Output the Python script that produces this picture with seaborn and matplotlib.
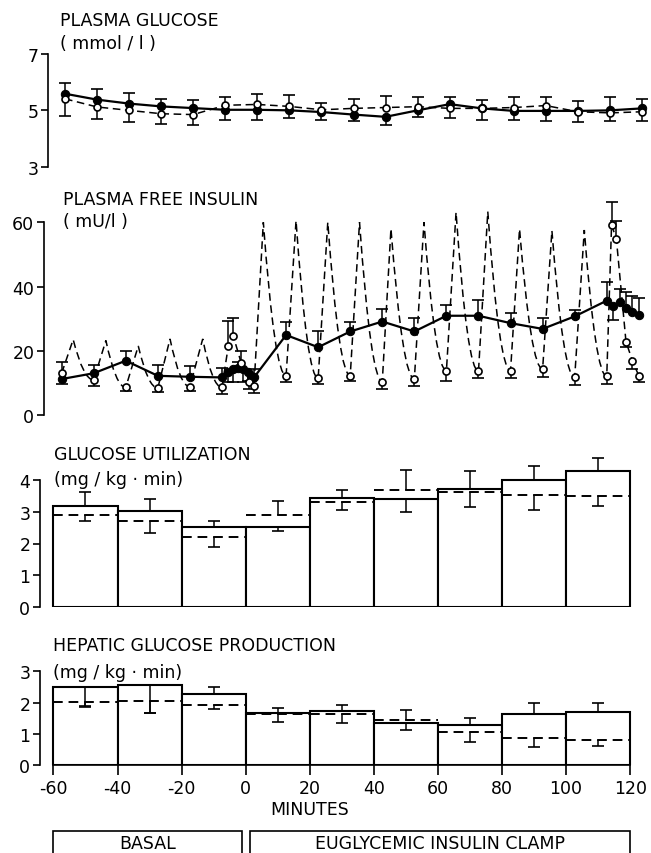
import numpy as np
import matplotlib
matplotlib.use("Agg")
import matplotlib.pyplot as plt
import seaborn as sns
from matplotlib.path import Path
from matplotlib.patches import PathPatch, Rectangle
from matplotlib.transforms import blended_transform_factory

# ---------------- data ----------------
# plasma glucose, mmol/l  (continuous = filled / solid, pulsatile = open / dashed)
glucose_t = [-60, -50, -40, -30, -20, -10, 0, 10, 20, 30, 40, 50, 60, 70, 80, 90, 100, 110, 120]
glucose_cont = [5.59, 5.38, 5.24, 5.14, 5.08, 5.02, 5.02, 5.00, 4.94, 4.85, 4.77, 5.00, 5.22, 5.07, 4.98, 4.98, 4.98, 5.00, 5.07]
glucose_cont_err = [0.37, 0.38, 0.37, 0.27, 0.30, -0.37, -0.35, -0.27, -0.29, -0.24, -0.28, -0.23, 0.24, 0.31, -0.33, -0.37, 0.34, 0.46, 0.34]
glucose_puls = [5.41, 5.12, 5.00, 4.88, 4.85, 5.18, 5.21, 5.14, 5.02, 5.07, 5.10, 5.13, 5.07, 5.07, 5.10, 5.17, 4.95, 4.91, 4.95]
glucose_puls_err = [-0.60, -0.41, -0.41, -0.35, -0.36, 0.29, 0.38, 0.39, 0.24, 0.33, 0.40, 0.33, -0.34, -0.42, 0.36, 0.31, -0.36, -0.30, -0.34]

# plasma free insulin, mU/l
insulin_cont_t = [-60, -50, -40, -30, -20, -10, -8, -6.5, -5, -3.5, -2, -1, 0,
                  10, 20, 30, 40, 50, 60, 70, 80, 90, 100, 110, 112, 114, 116, 118, 120]
insulin_cont = [11.2, 13.0, 16.9, 12.2, 11.9, 11.7, 13.5, 14.3, 14.6, 14.3, 13.5, 12.2, 11.7,
                24.9, 21.1, 26.0, 29.1, 26.0, 30.9, 30.9, 28.6, 26.8, 30.7, 35.6, 33.9, 35.3, 33.2, 32.2, 31.2]
insulin_cont_err = [-1.5, 2.7, 3.1, 3.5, 3.5, 2.9, -3.2, -4.0, 2.0, -4.0, -3.0, -1.5, 2.5,
                    4.2, 4.9, 3.1, 3.9, 4.1, 3.5, 4.9, 3.1, 3.3, 2.1, 5.7, -4.3, 4.0, 5.0, 5.0, 5.2]
insulin_puls_t = [-60, -50, -40, -30, -20, -10, -8, -6.5, -4, -1.5, 0,
                  10, 20, 30, 40, 50, 60, 70, 80, 90, 100, 110, 111.5, 113, 116, 118, 120]
insulin_puls = [13.0, 10.9, 8.6, 8.4, 8.8, 8.6, 21.6, 24.7, 16.2, 10.4, 9.1,
                12.2, 11.4, 12.2, 10.4, 11.2, 13.8, 13.6, 13.8, 14.3, 11.7, 12.0, 59.2, 54.8, 22.8, 16.9, 12.2]
insulin_puls_err = [3.4, -2.0, -1.0, -1.1, -1.2, -2.1, 7.8, 5.5, 3.8, -2.3, -2.2,
                    -1.8, -1.7, -1.5, -2.3, -2.1, -3.1, -2.1, -2.3, -2.6, -2.4, -2.3, 7.0, 5.5, -1.5, -2.6, -2.0]
# peaks of the insulin pulses (dashed curve only, no symbol)
pulse_peak_t = [-56.4, -46.2, -36.1, -26.2, -16.0, 2.9, 13.1, 23.0, 32.9, 42.7, 53.0, 63.0, 72.9, 82.8, 92.9, 103.0]
pulse_peak = [23.5, 23.2, 21.5, 23.7, 23.7, 60.0, 60.5, 60.0, 60.0, 58.0, 60.0, 63.1, 63.3, 57.9, 57.4, 57.6]

# 20-min periods
period_mid = [-50, -30, -10, 10, 30, 50, 70, 90, 110]
util_cont = [3.19, 3.01, 2.51, 2.51, 3.42, 3.39, 3.71, 4.00, 4.26]
util_cont_err = [0.41, 0.38, 0.18, -0.13, 0.27, -0.39, 0.57, 0.44, 0.41]
util_puls = [2.89, 2.72, 2.21, 2.89, 3.29, 3.69, 3.62, 3.53, 3.48]
util_puls_err = [-0.17, -0.40, -0.33, 0.43, -0.23, 0.62, -0.49, -0.47, -0.32]
hgp_cont = [2.51, 2.57, 2.27, 1.66, 1.74, 1.33, 1.28, 1.63, 1.71]
hgp_cont_err = [-0.62, -0.90, 0.24, 0.16, 0.19, -0.21, 0.21, 0.34, 0.26]
hgp_puls = [2.01, 2.06, 1.93, 1.63, 1.63, 1.45, 1.05, 0.86, 0.81]
hgp_puls_err = [-0.14, -0.40, -0.14, -0.26, -0.30, 0.31, -0.32, -0.27, -0.19]

x_ticks = [-60, -40, -20, 0, 20, 40, 60, 80, 100, 120]

# ---------------- style ----------------
sns.set_style("ticks")
plt.rcParams["font.family"] = ["DejaVu Sans"]
plt.rcParams["axes.unicode_minus"] = False
plt.rcParams["axes.linewidth"] = 1.2
plt.rcParams["xtick.major.width"] = 1.2
plt.rcParams["ytick.major.width"] = 1.2
plt.rcParams["text.color"] = "black"
plt.rcParams["xtick.color"] = "black"
plt.rcParams["ytick.color"] = "black"
plt.rcParams["axes.edgecolor"] = "black"

W, H = 651, 854
fig = plt.figure(figsize=(W / 100, H / 100), dpi=100)
fig.patch.set_facecolor("white")
FS = 12.5
DASH = (0, (5, 3))


def px_axes(left, top, right, bottom):
    return fig.add_axes([left / W, 1 - bottom / H, (right - left) / W, (bottom - top) / H])


def clean(ax, yticks, bottom=False):
    sns.despine(ax=ax, top=True, right=True, bottom=not bottom)
    ax.set_facecolor("none")
    ax.set_yticks(yticks)
    ax.set_yticklabels([str(v) for v in yticks], fontsize=FS)
    ax.spines["left"].set_bounds(yticks[0], yticks[-1])
    ax.tick_params(axis="y", length=5, pad=2, colors="black")
    if not bottom:
        ax.set_xticks([])
    ax.set_xlabel("")
    ax.set_ylabel("")


def sem_bars(ax, x, y, err):
    x = np.asarray(x, float)
    y = np.asarray(y, float)
    e = np.asarray(err, float)
    ax.vlines(x, y, y + e, color="black", lw=1.1, zorder=5, clip_on=False)
    ax.plot(x, y + e, ls="none", marker="_", ms=8, mew=1.2, color="black", zorder=5, clip_on=False)


def label(x, y, s):
    fig.text(x / W, 1 - y / H, s, ha="left", va="center", fontsize=FS, color="black")


# ---------------- plasma glucose ----------------
ax1 = px_axes(48, 55, 651, 167.7)
sem_bars(ax1, glucose_t, glucose_cont, glucose_cont_err)
sem_bars(ax1, glucose_t, glucose_puls, glucose_puls_err)
sns.lineplot(x=glucose_t, y=glucose_cont, ax=ax1, color="black", lw=1.6, marker="o",
             markersize=6, markerfacecolor="black", markeredgecolor="black", zorder=6, clip_on=False)
sns.lineplot(x=glucose_t, y=glucose_puls, ax=ax1, color="black", lw=1.1, linestyle=DASH, marker="o",
             markersize=5, markerfacecolor="white", markeredgecolor="black", markeredgewidth=1.2,
             zorder=7, clip_on=False)
ax1.set_xlim(-65.3, 122.8)
ax1.set_ylim(3, 7)
clean(ax1, [3, 5, 7])
label(60, 21, "PLASMA GLUCOSE")
label(60, 44, "( mmol / l )")

# ---------------- plasma free insulin ----------------
ax2 = px_axes(44, 200.8, 651, 416)
sem_bars(ax2, insulin_cont_t, insulin_cont, insulin_cont_err)
sem_bars(ax2, insulin_puls_t, insulin_puls, insulin_puls_err)

# dashed pulse curve: straight rise to each peak, curved decay after it
nodes = sorted([(t, v, False) for t, v in zip(insulin_puls_t, insulin_puls)] +
               [(t, v, True) for t, v in zip(pulse_peak_t, pulse_peak)])
verts = [(nodes[0][0], nodes[0][1])]
codes = [Path.MOVETO]
for (t0, v0, pk0), (t1, v1, pk1) in zip(nodes[:-1], nodes[1:]):
    if pk0:
        verts += [((t0 + t1) / 2, v1), (t1, v1)]
        codes += [Path.CURVE3, Path.CURVE3]
    else:
        verts.append((t1, v1))
        codes.append(Path.LINETO)
ax2.add_patch(PathPatch(Path(verts, codes), fill=False, lw=1.1, ls=DASH, ec="black",
                        zorder=4, clip_on=False))

sns.lineplot(x=insulin_cont_t, y=insulin_cont, ax=ax2, color="black", lw=1.6, marker="o",
             markersize=6, markerfacecolor="black", markeredgecolor="black", zorder=6, clip_on=False)
sns.scatterplot(x=insulin_puls_t, y=insulin_puls, ax=ax2, marker="o", s=26, facecolor="white",
                edgecolor="black", linewidth=1.2, zorder=7, clip_on=False)
ax2.set_xlim(-65.5, 123.8)
ax2.set_ylim(0, 67)
clean(ax2, [0, 20, 40, 60])
label(63, 200, "PLASMA FREE INSULIN")
label(63, 222, "( mU/l )")


# ---------------- bar panels ----------------
def bar_panel(ax, cont, cont_err, puls, puls_err, ytop):
    sns.barplot(x=period_mid, y=cont, ax=ax, native_scale=True, width=1, color="white",
                saturation=1, edgecolor="black", linewidth=1.5, errorbar=None, zorder=2)
    half = np.diff(period_mid).min() / 2
    mid = np.asarray(period_mid, float)
    ax.hlines(puls, mid - half, mid + half, colors="black", linestyles=DASH, lw=1.4, zorder=3)
    sem_bars(ax, period_mid, cont, cont_err)
    sem_bars(ax, period_mid, puls, puls_err)
    ax.set_xlim(-64.2, 126.5)
    ax.set_ylim(0, ytop)


# utilisation: 0 at y=608.3 px, 31.9 px per unit, room above 4 for the last bar
ax3 = px_axes(40, 608.3 - 4.8 * 31.9, 651, 608.3)
bar_panel(ax3, util_cont, util_cont_err, util_puls, util_puls_err, 4.8)
clean(ax3, [0, 1, 2, 3, 4])
label(54, 455, "GLUCOSE UTILIZATION")
label(54, 480, "(mg / kg · min)")

ax4 = px_axes(40, 672.3, 651, 766)
bar_panel(ax4, hgp_cont, hgp_cont_err, hgp_puls, hgp_puls_err, 3)
clean(ax4, [0, 1, 2, 3], bottom=True)
ax4.spines["bottom"].set_bounds(-60, 120)
ax4.set_xticks(x_ticks)
ax4.set_xticklabels([str(v) for v in x_ticks], fontsize=FS)
ax4.tick_params(axis="x", length=7, pad=3, colors="black")
label(53, 646, "HEPATIC GLUCOSE PRODUCTION")
label(53, 673, "(mg / kg · min)")

# x-axis title and the study-phase boxes below the time axis
tr = blended_transform_factory(ax4.transData, fig.transFigure)
fig.text(20, 1 - 810 / H, "MINUTES", transform=tr, ha="center", va="center", fontsize=FS)
box_top = 1 - 831.7 / H
for x0, x1, txt in [(-60, -1.2, "BASAL"), (1.2, 120, "EUGLYCEMIC INSULIN CLAMP")]:
    fig.add_artist(Rectangle((x0, box_top - 0.05), x1 - x0, 0.05, transform=tr, fill=False,
                             ec="black", lw=1.2, clip_on=False))
    fig.text((x0 + x1) / 2, 1 - 844 / H, txt, transform=tr, ha="center", va="center", fontsize=FS)

fig.savefig("out.png", dpi=100)
